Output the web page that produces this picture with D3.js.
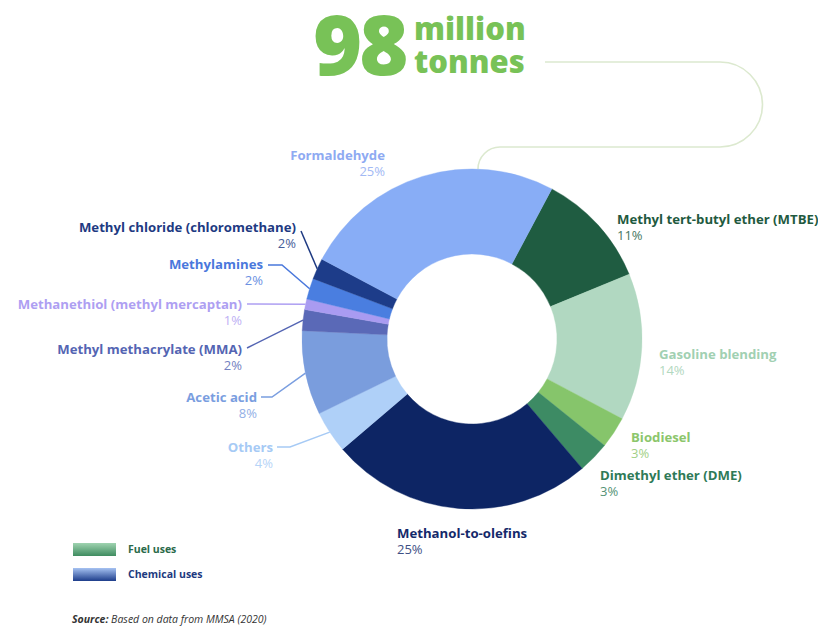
<!DOCTYPE html>
<html>
<head>
<meta charset="utf-8">
<script src="https://cdn.jsdelivr.net/npm/d3@7"></script>
<style>
  html, body { margin: 0; padding: 0; background: #fff; }
  svg { display: block; }
  text { font-family: "Open Sans", "Lato", sans-serif; }
</style>
</head>
<body>
<svg id="chart" width="818" height="635"></svg>
<script>
// Methanol end uses, clockwise from the MTBE slice
const categories = [
  "Methyl tert-butyl ether (MTBE)", "Gasoline blending", "Biodiesel", "Dimethyl ether (DME)",
  "Methanol-to-olefins", "Others", "Acetic acid", "Methyl methacrylate (MMA)",
  "Methanethiol (methyl mercaptan)", "Methylamines", "Methyl chloride (chloromethane)", "Formaldehyde"
];
const shares = [11, 14, 3, 3, 25, 4, 8, 2, 1, 2, 2, 25];
const useGroup = ["fuel", "fuel", "fuel", "fuel", "chem", "chem", "chem", "chem", "chem", "chem", "chem", "chem"];
const legendLabels = ["Fuel uses", "Chemical uses"];
const totalValue = "98";
const totalUnit = ["million", "tonnes"];
const sourceNote = ["Source:", " Based on data from MMSA (2020)"];

const sliceColors = ["#1f5c41", "#b1d8c1", "#86c56b", "#3d8b64", "#0d2564", "#afd0f8",
                     "#7a9ddd", "#5a69b7", "#a99bf1", "#4a7ee0", "#1d3c89", "#88adf6"];
const labelColors = ["#1f5a40", "#a1d0b2", "#8cc66c", "#2f7a57", "#14296a", "#a6caf5",
                     "#7a9ee0", "#5465b3", "#ae9ff2", "#4a78dc", "#1e3a82", "#8eaaf2"];

// label placement: anchor, text position, and leader-line points before the ring
const labelLayout = {
  "Methyl tert-butyl ether (MTBE)": { x: 617, y: 224, anchor: "start" },
  "Gasoline blending": { x: 659, y: 359, anchor: "start" },
  "Biodiesel": { x: 631, y: 442, anchor: "start" },
  "Dimethyl ether (DME)": { x: 600, y: 480, anchor: "start" },
  "Methanol-to-olefins": { x: 397, y: 538, anchor: "start" },
  "Others": { x: 273, y: 452, anchor: "end", leader: [[277, 447], [290, 447]] },
  "Acetic acid": { x: 257, y: 402, anchor: "end", leader: [[261, 397], [272, 397]] },
  "Methyl methacrylate (MMA)": { x: 242, y: 354, anchor: "end", leader: [[247, 348]] },
  "Methanethiol (methyl mercaptan)": { x: 242, y: 309, anchor: "end", leader: [[247, 304]] },
  "Methylamines": { x: 263, y: 269, anchor: "end", leader: [[268, 265], [282, 265]] },
  "Methyl chloride (chloromethane)": { x: 296, y: 232, anchor: "end", leader: [[301, 231]] },
  "Formaldehyde": { x: 385, y: 160, anchor: "end" }
};

const svg = d3.select("#chart");
const cx = 472, cy = 339, outerR = 170, innerR = 85;
const startDeg = 28;

const data = categories.map((c, i) => ({ name: c, value: shares[i], group: useGroup[i], color: sliceColors[i], label: labelColors[i] }));

const pie = d3.pie().sort(null).value(d => d.value)
  .startAngle(startDeg * Math.PI / 180)
  .endAngle((startDeg + 360) * Math.PI / 180);
const arc = d3.arc().innerRadius(innerR).outerRadius(outerR);
const arcs = pie(data);

// connector curve from the headline figure down to the top of the ring
svg.append("path")
  .attr("d", "M545,62 H720 A42.5,42.5 0 0 1 720,147 H500 A22,22 0 0 0 478,169")
  .attr("fill", "none").attr("stroke", "#dce9cf").attr("stroke-width", 1.6);

const ring = svg.append("g").attr("transform", `translate(${cx},${cy})`);
ring.selectAll("path.slice").data(arcs).join("path")
  .attr("class", "slice")
  .attr("d", arc)
  .attr("fill", d => d.data.color)
  .attr("stroke", d => d.data.color)
  .attr("stroke-width", 0.4);

// leader lines end at the outer edge, mid-slice
arcs.forEach(a => {
  const lay = labelLayout[a.data.name];
  if (!lay.leader) return;
  const mid = (a.startAngle + a.endAngle) / 2;
  const end = [cx + outerR * Math.sin(mid), cy - outerR * Math.cos(mid)];
  const pts = lay.leader.concat([end]);
  svg.append("path")
    .attr("d", d3.line()(pts))
    .attr("fill", "none")
    .attr("stroke", a.data.label)
    .attr("stroke-width", 1.5);
});

// slice labels
const labels = svg.append("g");
arcs.forEach(a => {
  const lay = labelLayout[a.data.name];
  const g = labels.append("g");
  g.append("text")
    .attr("x", lay.x).attr("y", lay.y)
    .attr("text-anchor", lay.anchor)
    .attr("font-size", 13.2).attr("font-weight", 700)
    .attr("fill", a.data.label)
    .text(a.data.name);
  g.append("text")
    .attr("x", lay.x).attr("y", lay.y + 16)
    .attr("text-anchor", lay.anchor)
    .attr("font-size", 13).attr("font-weight", 400)
    .attr("fill", d3.interpolateRgb(a.data.label, "#ffffff")(0.18))
    .text(a.data.value + "%");
});

// headline figure
const title = svg.append("g").attr("fill", "#78c257").style("font-family", "Lato, 'Open Sans', sans-serif");
title.append("text")
  .attr("x", 313).attr("y", 75)
  .attr("font-size", 84).attr("font-weight", 900)
  .attr("letter-spacing", -3)
  .text(totalValue);
title.append("text").attr("x", 414).attr("y", 40)
  .attr("font-size", 31).attr("font-weight", 900).text(totalUnit[0]);
title.append("text").attr("x", 414).attr("y", 73)
  .attr("font-size", 31).attr("font-weight", 900).text(totalUnit[1]);

// legend with gradient swatches
const defs = svg.append("defs");
const grads = [
  { id: "gFuel", top: "#9fd3b0", bottom: "#3f8c60", text: "#2b6a4a" },
  { id: "gChem", top: "#a6c2f2", bottom: "#1d3d8b", text: "#1d3a80" }
];
grads.forEach(g => {
  const lg = defs.append("linearGradient").attr("id", g.id).attr("x1", 0).attr("y1", 0).attr("x2", 0).attr("y2", 1);
  lg.append("stop").attr("offset", "0%").attr("stop-color", g.top);
  lg.append("stop").attr("offset", "100%").attr("stop-color", g.bottom);
});
const legend = svg.append("g");
legendLabels.forEach((lbl, i) => {
  const y0 = 543 + i * 25;
  legend.append("rect").attr("x", 73).attr("y", y0).attr("width", 43).attr("height", 13)
    .attr("fill", `url(#${grads[i].id})`);
  legend.append("text").attr("x", 128).attr("y", y0 + 10)
    .attr("font-size", 10.5).attr("font-weight", 700)
    .attr("fill", grads[i].text).text(lbl);
});

// source note
const src = svg.append("text").attr("x", 72).attr("y", 623)
  .attr("font-size", 10.5).attr("font-style", "italic").attr("fill", "#333");
src.append("tspan").attr("font-weight", 700).text(sourceNote[0]);
src.append("tspan").text(sourceNote[1]);
</script>
</body>
</html>
